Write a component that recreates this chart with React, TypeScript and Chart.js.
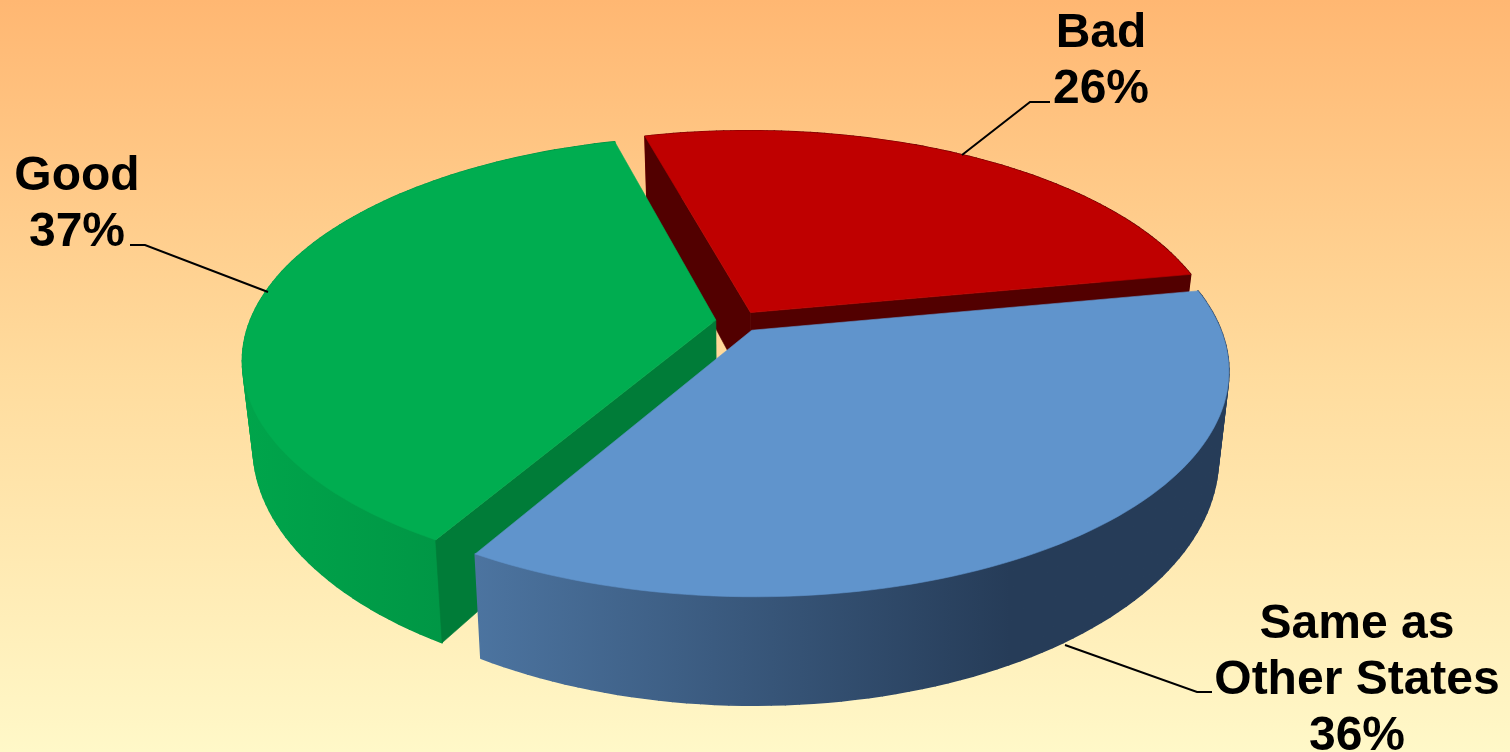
import React, { useEffect, useRef } from "react";
import { Chart, registerables } from "chart.js";

Chart.register(...registerables);

const categories = ["Bad", "Same as Other States", "Good"];
const values = [26, 36, 37];
const valueLabels = ["26%", "36%", "37%"];
const topColors = ["#bf0000", "#6094cc", "#00ad50"];
const cutColors = ["#520000", "#263c58", "#007c38"];
const wallStops = [
  ["#700000", "#520000"],
  ["#4c74a0", "#263c58"],
  ["#00a54b", "#008a40"],
];
const paintOrder = [0, 2, 1];
const explodeShare = 0.049;

// Perspective view of the flat pie produced by Chart.js
const view = {
  cx: 738.5, cy: 321.5, a: 466, b: 216.5, p: 0.175,
  bottomCy: 403, bottomA: 456, bottomB: 237.7,
};

type Pt = { x: number; y: number };

function project(X: number, Y: number, bottom: boolean): Pt {
  const s = 1 / (1 - view.p * Y);
  return bottom
    ? { x: view.cx + X * s * view.bottomA, y: view.bottomCy + Y * s * view.bottomB }
    : { x: view.cx + X * s * view.a, y: view.cy + Y * s * view.b };
}

function fillPath(ctx: CanvasRenderingContext2D, pts: Pt[], fill: string | CanvasGradient, seam = 0.6) {
  ctx.beginPath();
  pts.forEach((p, i) => (i ? ctx.lineTo(p.x, p.y) : ctx.moveTo(p.x, p.y)));
  ctx.closePath();
  ctx.fillStyle = fill;
  ctx.fill();
  ctx.strokeStyle = fill;
  ctx.lineWidth = seam;
  ctx.stroke();
}

const leaders: [number, number][][] = [
  [[962, 155], [1030, 102], [1050, 102]],
  [[268, 292], [145, 245], [130, 245]],
  [[1065, 645], [1197, 692], [1212, 692]],
];
const labelBlocks = [
  { x: 1101, y: 47, lines: [categories[0], valueLabels[0]] },
  { x: 1357, y: 638, lines: ["Same as", "Other States", valueLabels[1]] },
  { x: 77, y: 190, lines: [categories[2], valueLabels[2]] },
];

const pie3d = {
  id: "pie3d",
  beforeDraw(chart: any) {
    const { ctx, width, height } = chart;
    const g = ctx.createLinearGradient(0, 0, 0, height);
    g.addColorStop(0, "#ffb772");
    g.addColorStop(0.5, "#ffdc9e");
    g.addColorStop(1, "#fff8c8");
    ctx.fillStyle = g;
    ctx.fillRect(0, 0, width, height);
  },
  beforeDatasetDraw(chart: any) {
    const ctx: CanvasRenderingContext2D = chart.ctx;
    const arcs = chart.getDatasetMeta(0).data;
    ctx.save();
    ctx.lineJoin = "round";
    paintOrder.forEach((i) => {
      const arc = arcs[i];
      const start = arc.startAngle;
      const end = arc.endAngle;
      const mid = (start + end) / 2;
      const ox = Math.cos(mid) * explodeShare;
      const oy = Math.sin(mid) * explodeShare;
      const ring: [number, number][] = [];
      const steps = 90;
      for (let k = 0; k <= steps; k++) {
        const t = start + ((end - start) * k) / steps;
        ring.push([ox + Math.cos(t), oy + Math.sin(t)]);
      }
      const topRing = ring.map(([x, y]) => project(x, y, false));
      const botRing = ring.map(([x, y]) => project(x, y, true));
      const apexTop = project(ox, oy, false);
      const apexBot = project(ox, oy, true);

      // outer wall, as overlapping strips so the silhouette stays convex
      const xs = topRing.map((p) => p.x);
      const x0 = Math.min(...xs);
      const x1 = i === 1 ? 1010 : Math.max(...xs);
      const grad = ctx.createLinearGradient(x0, 0, x1, 0);
      grad.addColorStop(0, wallStops[i][0]);
      grad.addColorStop(1, wallStops[i][1]);
      for (let k = 0; k < steps; k++) {
        fillPath(ctx, [topRing[k], topRing[k + 1], botRing[k + 1], botRing[k]], grad, 1.6);
      }

      // cut faces that look at the viewer
      const mx = project(ox + Math.cos(mid) * 0.5, oy + Math.sin(mid) * 0.5, false);
      [0, steps].forEach((k) => {
        const ex = topRing[k].x - apexTop.x;
        const ey = topRing[k].y - apexTop.y;
        const side = ex * (mx.y - apexTop.y) - ey * (mx.x - apexTop.x);
        if (ex * side < 0) {
          fillPath(ctx, [apexTop, topRing[k], botRing[k], apexBot], cutColors[i]);
        }
      });

      // top face
      fillPath(ctx, [apexTop, ...topRing], topColors[i]);
    });
    ctx.restore();
    return false;
  },
  afterDatasetsDraw(chart: any) {
    const ctx: CanvasRenderingContext2D = chart.ctx;
    ctx.save();
    ctx.strokeStyle = "#000";
    ctx.lineWidth = 2;
    leaders.forEach((line) => {
      ctx.beginPath();
      line.forEach(([x, y], i) => (i ? ctx.lineTo(x, y) : ctx.moveTo(x, y)));
      ctx.stroke();
    });
    ctx.fillStyle = "#000";
    ctx.font = 'bold 48px "Liberation Sans", Arial, sans-serif';
    ctx.textAlign = "center";
    ctx.textBaseline = "alphabetic";
    labelBlocks.forEach((b) => {
      b.lines.forEach((t, i) => ctx.fillText(t, b.x, b.y + i * 56));
    });
    ctx.restore();
  },
};

export default function App() {
  const ref = useRef<HTMLCanvasElement>(null);
  useEffect(() => {
    document.body.style.margin = "0";
    const chart = new Chart(ref.current!, {
      type: "pie",
      data: {
        labels: categories,
        datasets: [{ data: values, backgroundColor: topColors, borderWidth: 0 }],
      },
      options: {
        responsive: false,
        animation: false,
        rotation: -15.2,
        plugins: { legend: { display: false }, tooltip: { enabled: false } },
      },
      plugins: [pie3d],
    } as any);
    return () => chart.destroy();
  }, []);
  return <canvas ref={ref} width={1510} height={752} style={{ display: "block" }} />;
}
